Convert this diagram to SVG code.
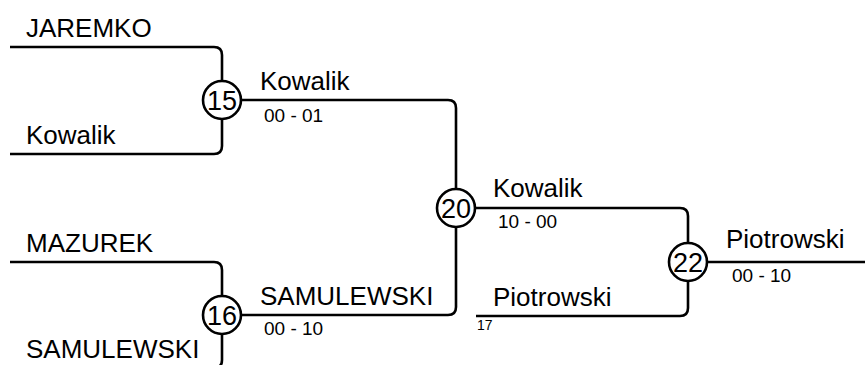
<svg xmlns="http://www.w3.org/2000/svg" width="865" height="365" viewBox="0 0 865 365">
<style>
.c{fill:none;stroke:#000;stroke-width:2.6}
.n{fill:#fff;stroke:#000;stroke-width:2.6}
.t{font-family:"Liberation Sans",Arial,sans-serif;font-size:26px;fill:#000}
.s{font-family:"Liberation Sans",Arial,sans-serif;font-size:19px;fill:#000}
.num{font-family:"Liberation Sans",Arial,sans-serif;font-size:27px;fill:#000;text-anchor:middle}
.b{font-family:"Liberation Sans",Arial,sans-serif;font-size:14px;fill:#000}
</style>
<rect width="865" height="365" fill="#fff"/>
<g id="connectors">
<path class="c" d="M10,47 H214 Q222,47 222,55 V81"/>
<path class="c" d="M10,154 H214 Q222,154 222,146 V119"/>
<path class="c" d="M241,100 H448 Q456,100 456,108 V189"/>
<path class="c" d="M10,262 H214 Q222,262 222,270 V296"/>
<path class="c" d="M10,368 H214 Q222,368 222,360 V334"/>
<path class="c" d="M241,315 H448 Q456,315 456,307 V227"/>
<path class="c" d="M475,208 H680 Q688,208 688,216 V243"/>
<path class="c" d="M476,316 H680 Q688,316 688,308 V281"/>
<path class="c" d="M707,262 H865"/>
</g>
<g id="labels">
<text class="t" x="26" y="37">JAREMKO</text>
<text class="t" x="26" y="144">Kowalik</text>
<text class="t" x="26" y="252">MAZUREK</text>
<text class="t" x="26" y="358">SAMULEWSKI</text>
<text class="t" x="260" y="90">Kowalik</text>
<text class="s" x="264" y="122">00 - 01</text>
<text class="t" x="260" y="305">SAMULEWSKI</text>
<text class="s" x="264" y="335">00 - 10</text>
<text class="t" x="493" y="197">Kowalik</text>
<text class="s" x="498" y="228">10 - 00</text>
<text class="t" x="493" y="306">Piotrowski</text>
<text class="b" x="477" y="330">17</text>
<text class="t" x="726" y="248">Piotrowski</text>
<text class="s" x="732" y="282">00 - 10</text>
</g>
<g id="m15"><circle class="n" cx="222" cy="100" r="19"/><text class="num" x="222" y="110">15</text></g>
<g id="m16"><circle class="n" cx="222" cy="315" r="19"/><text class="num" x="222" y="325">16</text></g>
<g id="m20"><circle class="n" cx="456" cy="208" r="19"/><text class="num" x="456" y="218">20</text></g>
<g id="m22"><circle class="n" cx="688" cy="262" r="19"/><text class="num" x="688" y="272">22</text></g>
</svg>
